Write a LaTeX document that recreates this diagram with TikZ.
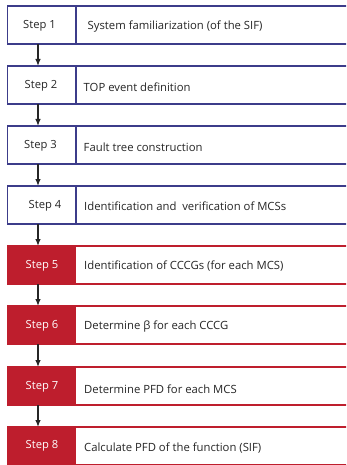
\documentclass[tikz,border=0pt]{standalone}
\usepackage{fontspec}
\setmainfont{Open Sans}
\usetikzlibrary{arrows.meta}
\definecolor{navy}{HTML}{3C3C8A}
\definecolor{sred}{HTML}{BE1E2D}
\begin{document}
\begin{tikzpicture}[x=1pt,y=-1pt,
  rowbox/.style={draw=#1,line width=1.1pt,fill=white},
  steptxt/.style={font=\fontsize{11.2}{13}\selectfont,text=#1,anchor=center,inner sep=0pt},
  maintxt/.style={font=\fontsize{11.3}{13}\selectfont,text=black!85,anchor=west,inner sep=0pt},
  flow/.style={-{Latex[length=7pt,width=5.5pt]},line width=1.2pt,black!85}]
\clip (0,0) rectangle (346,465);
\fill[white] (0,0) rectangle (346,465);
\foreach \i/\t in {1/6,2/66,3/126,4/186}{
  \draw[rowbox=navy] (7.5,\t) rectangle (360,\t+38);
  \draw[navy,line width=1.1pt] (76,\t) -- (76,\t+38);
  \coordinate (b\i) at (38,\t+38);
  \coordinate (t\i) at (38,\t);
}
\foreach \i/\t in {5/246,6/306,7/367,8/427}{
  \draw[rowbox=sred] (7.5,\t) rectangle (360,\t+38);
  \fill[sred] (7.5,\t) rectangle (76,\t+38);
  \coordinate (b\i) at (38,\t+38);
  \coordinate (t\i) at (38,\t);
}
\node[steptxt=black!85] (s1) at (39.5,25.5) {Step 1};
\node[steptxt=black!85] (s2) at (41,85.5) {Step 2};
\node[steptxt=black!85] (s3) at (40.5,145.5) {Step 3};
\node[steptxt=black!85] (s4) at (45,205.5) {Step 4};
\node[steptxt=white] (s5) at (42,266) {Step 5};
\node[steptxt=white] (s6) at (42,326) {Step 6};
\node[steptxt=white] (s7) at (42,386.5) {Step 7};
\node[steptxt=white] (s8) at (42,446) {Step 8};
\node[maintxt] (m1) at (87.5,27) {System familiarization (of the SIF)};
\node[maintxt] (m2) at (83.5,87) {TOP event definition};
\node[maintxt] (m3) at (83.5,147) {Fault tree construction};
\node[maintxt] (m4) at (84,206) {Identification and\ \ verification of MCSs};
\node[maintxt] (m5) at (84,266) {Identification of CCCGs (for each MCS)};
\node[maintxt] (m6) at (84,327) {Determine β for each CCCG};
\node[maintxt] (m7) at (84,389) {Determine PFD for each MCS};
\node[maintxt] (m8) at (84,448) {Calculate PFD of the function (SIF)};
\foreach \a/\b in {1/2,2/3,3/4,4/5,5/6,6/7,7/8}{
  \draw[flow] (b\a) -- (t\b);
}
\end{tikzpicture}
\end{document}
